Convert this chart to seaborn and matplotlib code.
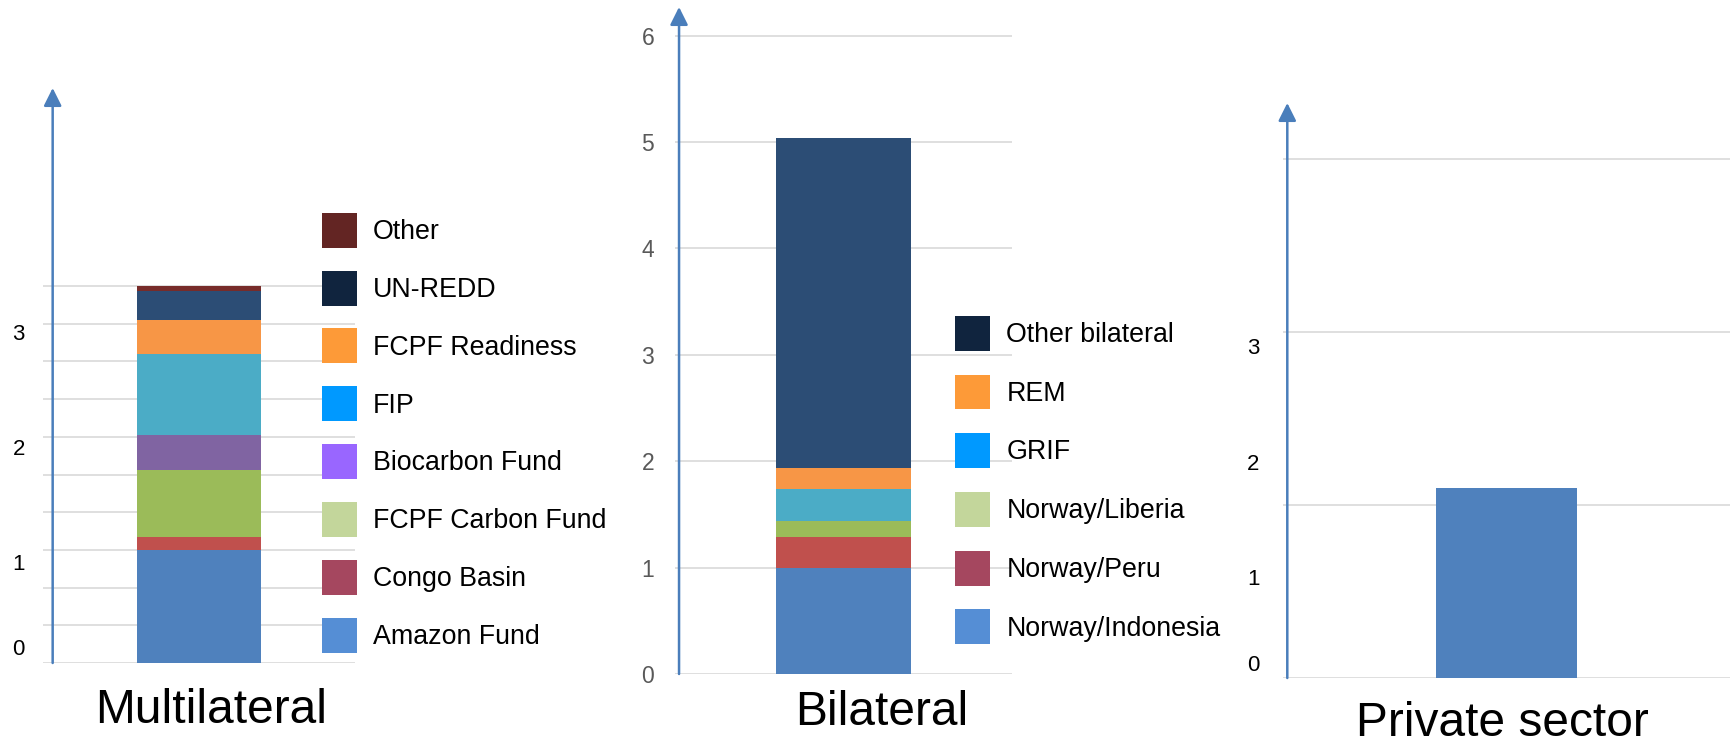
import numpy as np
import pandas as pd
import seaborn as sns
import matplotlib.pyplot as plt
from matplotlib.patches import Patch

# data (bn)
multi_sources = ['Amazon Fund', 'Congo Basin', 'FCPF Carbon Fund', 'Biocarbon Fund',
                 'FIP', 'FCPF Readiness', 'UN-REDD', 'Other']
multi_values = [1.0, 0.11, 0.60, 0.31, 0.71, 0.30, 0.255, 0.05]
bi_sources = ['Norway/Indonesia', 'Norway/Peru', 'Norway/Liberia', 'GRIF', 'REM', 'Other bilateral']
bi_values = [1.0, 0.29, 0.15, 0.30, 0.20, 3.10]
private_value = [1.65]

# bar colours and (different) legend colours, bottom to top
multi_bar_colors = ['#4f81bd', '#c0504d', '#9bbb59', '#8064a2', '#4bacc6', '#f79646', '#2c4d75', '#772c2a']
multi_leg_colors = ['#558ed5', '#a5475f', '#c3d69b', '#9966ff', '#0099ff', '#fd9a38', '#10243e', '#632523']
bi_bar_colors = ['#4f81bd', '#c0504d', '#9bbb59', '#4bacc6', '#f79646', '#2c4d75']
bi_leg_colors = ['#558ed5', '#a5475f', '#c3d69b', '#0099ff', '#fd9a38', '#10243e']

# tick labels as they sit in the source picture
multi_tick_pos = [0.14, 0.89, 1.91, 2.93]
private_tick_pos = [0.13, 0.88, 1.87, 2.88]
side_tick_labels = ['0', '1', '2', '3']

df_multi = pd.DataFrame({'panel': 'Multilateral', 'source': multi_sources, 'value': multi_values})
df_bi = pd.DataFrame({'panel': 'Bilateral', 'source': bi_sources, 'value': bi_values})
df_priv = pd.DataFrame({'panel': ['Private sector'], 'value': private_value})

sns.set_style('white')
plt.rcParams['font.family'] = ['Liberation Sans', 'DejaVu Sans']
plt.rcParams['text.color'] = 'black'

W, H = 1730, 744
fig = plt.figure(figsize=(W / 100, H / 100), dpi=100)


def px_axes(left, top, right, bottom):
    return fig.add_axes([left / W, 1 - bottom / H, (right - left) / W, (bottom - top) / H])


ax1 = px_axes(43, 88, 355, 663)
ax2 = px_axes(675, 7, 1012, 674)
ax3 = px_axes(1283, 103, 1730, 678)

grid_kw = dict(color='#d9d9d9', linewidth=1.2)

# stacked bars (first hue level ends on top with histplot stacking)
sns.histplot(df_multi, x='panel', hue='source', weights='value', multiple='stack',
             hue_order=multi_sources[::-1], palette=dict(zip(multi_sources, multi_bar_colors)),
             discrete=True, shrink=0.4, alpha=1, linewidth=0, legend=False, ax=ax1)
sns.histplot(df_bi, x='panel', hue='source', weights='value', multiple='stack',
             hue_order=bi_sources[::-1], palette=dict(zip(bi_sources, bi_bar_colors)),
             discrete=True, shrink=0.4, alpha=1, linewidth=0, legend=False, ax=ax2)
sns.histplot(df_priv, x='panel', weights='value', discrete=True, shrink=0.315,
             color='#4f81bd', alpha=1, linewidth=0, ax=ax3)

ax1.set_ylim(0, 575 / 113.1)
ax2.set_ylim(0, 667 / 106.4)
ax3.set_ylim(0, 575 / 115.3)

ax1.set_yticks(np.arange(11) / 3, minor=True)
ax1.set_yticks(multi_tick_pos, side_tick_labels)
ax3.set_yticks([0, 1.5, 3, 4.5], minor=True)
ax3.set_yticks(private_tick_pos, side_tick_labels)
ax2.set_yticks(range(7))

for ax in (ax1, ax3):
    ax.grid(False)
    ax.grid(which='minor', axis='y', **grid_kw)
ax2.grid(axis='y', **grid_kw)

ax1.tick_params(axis='y', which='both', length=0, labelsize=16, pad=13, labelcolor='black')
ax3.tick_params(axis='y', which='both', length=0, labelsize=16, pad=17, labelcolor='black')
ax2.tick_params(axis='y', length=0, labelsize=16.5, pad=15, labelcolor='#595959')

for ax in (ax1, ax2, ax3):
    ax.set_xlim(-0.5, 0.5)
    ax.set_xticks([])
    ax.set_xlabel('')
    ax.set_ylabel('')
    ax.set_axisbelow(True)
    sns.despine(ax=ax, left=True, bottom=True)

# blue axis arrows
for ax, xf in ((ax1, 0.031), (ax2, 0.012), (ax3, 0.0096)):
    ax.annotate('', xy=(xf, 1), xytext=(xf, 0), xycoords='axes fraction',
                arrowprops=dict(arrowstyle='-|>', color='#4a7ebb', lw=1.8,
                                mutation_scale=27, shrinkA=0, shrinkB=0))

# panel titles
fig.text(211.5 / W, 21 / H, 'Multilateral', ha='center', va='baseline', fontsize=34.5)
fig.text(881.5 / W, 19 / H, 'Bilateral', ha='center', va='baseline', fontsize=34.5)
fig.text(1502.5 / W, 8 / H, 'Private sector', ha='center', va='baseline', fontsize=34.5)

leg_kw = dict(loc='upper left', frameon=False, fontsize=19.3, handlelength=1.3, handleheight=1.63,
              handletextpad=0.62, borderpad=0, borderaxespad=0)
h1 = [Patch(facecolor=c, edgecolor='none', label=l)
      for l, c in zip(multi_sources[::-1], multi_leg_colors[::-1])]
fig.legend(handles=h1, bbox_to_anchor=(321.7 / W, 1 - 212.7 / H), labelspacing=0.855, **leg_kw)
h2 = [Patch(facecolor=c, edgecolor='none', label=l)
      for l, c in zip(bi_sources[::-1], bi_leg_colors[::-1])]
fig.legend(handles=h2, bbox_to_anchor=(955 / W, 1 - 315.8 / H), labelspacing=0.886, **leg_kw)

plt.savefig('out.png', dpi=100)
